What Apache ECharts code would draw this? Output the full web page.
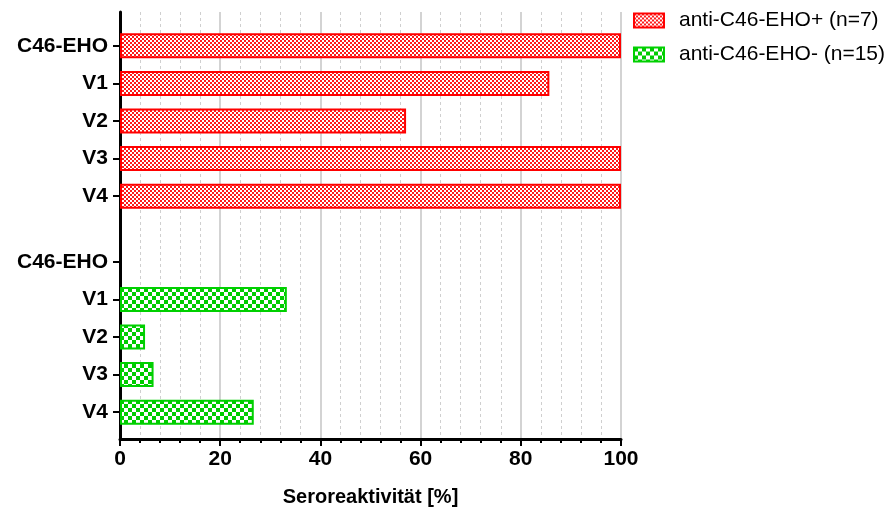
<!DOCTYPE html>
<html>
<head>
<meta charset="utf-8">
<script src="https://cdn.jsdelivr.net/npm/echarts@6/dist/echarts.min.js"></script>
<style>
  html, body { margin: 0; padding: 0; background: #fff; }
  #chart { width: 887px; height: 512px; }
</style>
</head>
<body>
<div id="chart"></div>
<script>
const categories = ['C46-EHO', 'V1', 'V2', 'V3', 'V4']
const positive = [100, 85.7, 57.1, 100, 100]
const negative = [0, 33.3, 5, 6.7, 26.7]
const seriesNames = ['anti-C46-EHO+ (n=7)', 'anti-C46-EHO- (n=15)']
const xTicks = [0, 20, 40, 60, 80, 100]

const font = 'Liberation Sans'

// checkerboard fill like the prism hatch
function checker(cell, color) {
  const c = document.createElement('canvas')
  c.width = c.height = cell * 2
  const ctx = c.getContext('2d')
  ctx.fillStyle = '#fff'
  ctx.fillRect(0, 0, cell * 2, cell * 2)
  ctx.fillStyle = color
  ctx.fillRect(0, 0, cell, cell)
  ctx.fillRect(cell, cell, cell, cell)
  return { image: c, repeat: 'repeat' }
}

// zero bars draw nothing (no border line)
const barData = (arr) => arr.map(v => v === 0 ? { value: v, itemStyle: { borderWidth: 0 } } : v)

const chart = echarts.init(document.getElementById('chart'), null, { renderer: 'canvas' })

const plotLeft = 120
const plotRight = 266

const catAxis = (grid) => ({
  type: 'category',
  gridIndex: grid,
  inverse: true,
  data: categories,
  axisLine: { show: false },
  axisTick: { show: true, alignWithLabel: true, length: 7, lineStyle: { color: '#000', width: 2 } },
  axisLabel: { color: '#000', fontFamily: font, fontWeight: 'bold', fontSize: 21, margin: 12 }
})

const hiddenX = (grid) => ({
  type: 'value', gridIndex: grid, min: 0, max: 100, show: false
})

chart.setOption({
  animation: false,
  legend: {
    orient: 'vertical',
    left: 628,
    top: 5,
    icon: 'rect',
    itemWidth: 30,
    itemHeight: 14,
    itemGap: 13,
    data: seriesNames,
    textStyle: { color: '#000', fontFamily: font, fontSize: 21, padding: [0, 0, 0, 10] }
  },
  grid: [
    { left: plotLeft, right: plotRight, top: 12, bottom: 67 },
    { left: plotLeft, right: plotRight, top: 27, height: 188 },
    { left: plotLeft, right: plotRight, top: 243, height: 188 }
  ],
  xAxis: [
    {
      type: 'value',
      gridIndex: 0,
      min: 0,
      max: 100,
      interval: 20,
      name: 'Seroreaktivität [%]',
      nameLocation: 'middle',
      nameGap: 48,
      nameTextStyle: { color: '#000', fontFamily: font, fontWeight: 'bold', fontSize: 20 },
      axisLine: { lineStyle: { color: '#000', width: 3 } },
      axisTick: { length: 7, lineStyle: { color: '#000', width: 2 } },
      minorTick: { show: true, splitNumber: 5, length: 4, lineStyle: { color: '#000', width: 2 } },
      axisLabel: {
        color: '#000', fontFamily: font, fontWeight: 'bold', fontSize: 21, margin: 10,
        formatter: (v) => xTicks.includes(v) ? String(v) : ''
      },
      splitLine: { show: true, lineStyle: { color: '#c4c4c4', width: 1.5 } },
      minorSplitLine: { show: true, lineStyle: { color: '#cfcfcf', width: 1, type: [3, 3] } }
    },
    hiddenX(1),
    hiddenX(2)
  ],
  yAxis: [
    {
      type: 'value',
      gridIndex: 0,
      axisLine: { show: true, lineStyle: { color: '#000', width: 3 } },
      axisTick: { show: false },
      axisLabel: { show: false },
      splitLine: { show: false }
    },
    catAxis(1),
    catAxis(2)
  ],
  series: [
    {
      name: seriesNames[0],
      type: 'bar',
      xAxisIndex: 1,
      yAxisIndex: 1,
      data: barData(positive),
      barWidth: 25,
      itemStyle: { color: checker(2, '#ff1a1a'), borderColor: '#ff0000', borderWidth: 2 }
    },
    {
      name: seriesNames[1],
      type: 'bar',
      xAxisIndex: 2,
      yAxisIndex: 2,
      data: barData(negative),
      barWidth: 25,
      itemStyle: { color: checker(4, '#00cc00'), borderColor: '#00d000', borderWidth: 2 }
    }
  ]
})
</script>
</body>
</html>
